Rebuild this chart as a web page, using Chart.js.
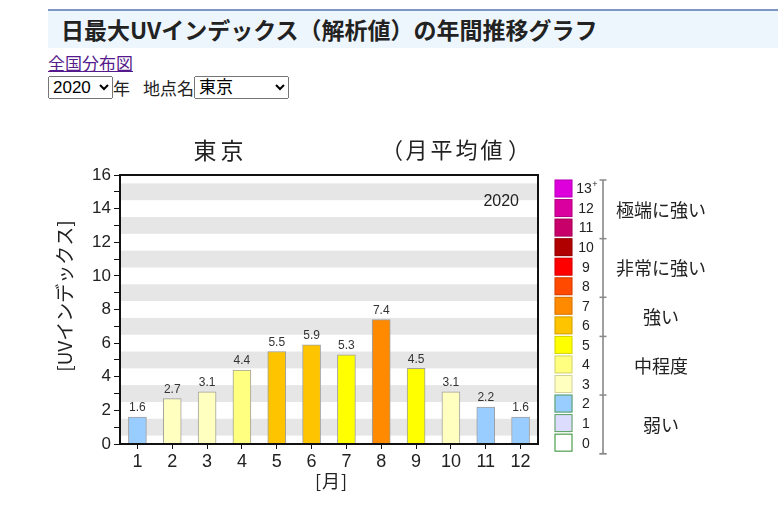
<!DOCTYPE html>
<html>
<head>
<meta charset="utf-8">
<script src="https://cdn.jsdelivr.net/npm/chart.js@4/dist/chart.umd.min.js"></script>
<style>
  body { margin: 0; background: #fff; font-family: "Liberation Sans", Arial, "Noto Sans CJK JP", sans-serif; }
  #hd { position: absolute; left: 48px; top: 9px; width: 730px; height: 37px; border-top: 2px solid #7f97c3; background: #eef6fd; }
  #hd h1 { margin: 0; position: absolute; left: 13px; top: 3px; font: bold 23px "Noto Sans CJK JP", sans-serif; line-height: 30px; color: #222; }
  #lnk { position: absolute; left: 48px; top: 50px; font: 17px "Noto Sans CJK JP", sans-serif; color: #551a8b; }
  #ctl { position: absolute; left: 48px; top: 76px; font: 17px "Noto Sans CJK JP", sans-serif; color: #222; line-height: 23px; white-space: nowrap; }
  #ctl span { display: inline-block; vertical-align: top; }
  select { font: 17px "Liberation Sans", "Noto Sans CJK JP", sans-serif; height: 23px; vertical-align: top; margin: 0; }
  #chart { position: absolute; left: 0; top: 120px; }
</style>
</head>
<body>
<div id="hd"><h1>日最大UVインデックス（解析値）の年間推移グラフ</h1></div>
<a id="lnk" href="#">全国分布図</a>
<div id="ctl"><select style="width:65px"><option>2020</option></select><span>年</span><span style="margin-left:13px">地点名</span><select style="width:95px"><option>東京</option></select></div>
<canvas id="chart" width="778" height="380"></canvas>
<script>
const months = ['1', '2', '3', '4', '5', '6', '7', '8', '9', '10', '11', '12'];
const uvMean = [1.6, 2.7, 3.1, 4.4, 5.5, 5.9, 5.3, 7.4, 4.5, 3.1, 2.2, 1.6];
const yTicks = [0, 2, 4, 6, 8, 10, 12, 14, 16];

// UV level colours, index = level 0..13
const levelColors = ['#ffffff', '#dcdcff', '#99ccff', '#ffffc0', '#ffff80', '#ffff00', '#ffc400',
  '#ff8a00', '#ff4a00', '#ff0000', '#b00000', '#c8006a', '#d9009f', '#dd00dd'];
const levelLabels = ['0', '1', '2', '3', '4', '5', '6', '7', '8', '9', '10', '11', '12', '13'];
const groupNames = ['弱い', '中程度', '強い', '非常に強い', '極端に強い'];
const groupFrom = [0, 3, 6, 8, 11];
const groupTo = [2, 5, 7, 10, 13];

function levelColor(v) {
  return levelColors[Math.min(13, Math.round(v))];
}

const jp = '"Noto Sans CJK JP", sans-serif';
const sans = '"Liberation Sans", Arial, sans-serif';

// draw a string one character at a time with a fixed pitch, centred on cx
function spaced(ctx, text, cx, cy, pitch) {
  const chars = Array.from(text);
  let x = cx - pitch * (chars.length - 1) / 2;
  chars.forEach(c => { ctx.fillText(c, x, cy); x += pitch; });
}

const decor = {
  id: 'decor',
  beforeDatasetsDraw(chart) {
    const { ctx, chartArea: a, scales: { y } } = chart;
    ctx.save();
    ctx.fillStyle = '#e6e6e6';
    for (let k = 0.5; k < 16; k += 2) {
      const t = y.getPixelForValue(k + 1), b = y.getPixelForValue(k);
      ctx.fillRect(a.left, t, a.right - a.left, b - t);
    }
    ctx.restore();
  },
  afterDatasetsDraw(chart) {
    const { ctx, chartArea: a } = chart;
    const meta = chart.getDatasetMeta(0);
    ctx.save();
    // value labels
    ctx.fillStyle = '#333';
    ctx.font = '12px ' + sans;
    ctx.textAlign = 'center';
    ctx.textBaseline = 'bottom';
    meta.data.forEach((bar, i) => {
      ctx.fillText(uvMean[i].toFixed(1), bar.x, bar.y - 3);
    });
    // frame
    ctx.strokeStyle = '#111';
    ctx.lineWidth = 2;
    ctx.strokeRect(a.left, a.top, a.right - a.left, a.bottom - a.top);
    // year text
    ctx.fillStyle = '#222';
    ctx.font = '16px ' + sans;
    ctx.textAlign = 'right';
    ctx.textBaseline = 'middle';
    ctx.fillText('2020', 519, 82);
    // titles
    ctx.font = '23px ' + jp;
    ctx.textAlign = 'center';
    spaced(ctx, '東京', 218.5, 30, 27);
    ctx.font = '22px ' + jp;
    spaced(ctx, '月平均値', 454, 30, 25);
    ctx.fillText('（', 392, 30);
    ctx.fillText('）', 519, 30);
    ctx.font = '18px ' + jp;
    spaced(ctx, '[月]', (a.left + a.right) / 2 + 2, 361, 13);
    ctx.save();
    ctx.translate(65, 176);
    ctx.rotate(-Math.PI / 2);
    ctx.font = '19px ' + jp;
    ctx.fillText('[UVインデックス]', 0, 0);
    ctx.restore();

    // legend
    const top = 59.5, pitch = 19.55, sx = 554.5, sw = 18, sh = 18;
    for (let i = 0; i < levelColors.length; i++) {
      const lvl = 13 - i;
      const yy = top + i * pitch;
      ctx.fillStyle = levelColors[lvl];
      ctx.fillRect(sx, yy, sw, sh);
      ctx.lineWidth = 1;
      ctx.strokeStyle = 'rgba(0,0,0,0.18)';
      if (lvl <= 2) ctx.strokeStyle = '#5aa05a';
      if (lvl === 0) ctx.strokeStyle = '#2a8a2a';
      ctx.strokeRect(sx + 0.5, yy + 0.5, sw - 1, sh - 1);
      ctx.fillStyle = '#222';
      ctx.font = '14px ' + sans;
      ctx.textAlign = 'center';
      ctx.textBaseline = 'middle';
      if (lvl === 13) {
        ctx.fillText(levelLabels[lvl], 584, yy + sh / 2 + 1);
        ctx.font = '9px ' + sans;
        ctx.fillText('+', 595, yy + 5);
      } else {
        ctx.fillText(levelLabels[lvl], 586, yy + sh / 2 + 1);
      }
    }
    // bracket
    const bx = 603;
    const yOf = idx => top + idx * pitch - 0.5;
    ctx.strokeStyle = '#a0a0a0';
    ctx.lineWidth = 2;
    ctx.beginPath();
    ctx.moveTo(bx, yOf(0) + 1);
    ctx.lineTo(bx, yOf(14) + 1);
    ctx.stroke();
    ctx.lineWidth = 1.5;
    ctx.strokeStyle = '#888';
    const caps = [0, 14];
    groupFrom.forEach(f => caps.push(14 - f));
    caps.forEach(idx => {
      const cy = yOf(idx) + 1;
      ctx.beginPath();
      ctx.moveTo(bx - 3.5, cy);
      ctx.lineTo(bx + 3.5, cy);
      ctx.stroke();
    });
    ctx.fillStyle = '#222';
    ctx.font = '18px ' + jp;
    ctx.textAlign = 'center';
    groupNames.forEach((name, g) => {
      const i0 = 13 - groupTo[g], i1 = 13 - groupFrom[g] + 1;
      const cy = top + (i0 + i1) / 2 * pitch + 1;
      ctx.fillText(name, 661, cy);
    });
    ctx.restore();
  }
};

new Chart(document.getElementById('chart'), {
  type: 'bar',
  data: {
    labels: months,
    datasets: [{
      data: uvMean,
      backgroundColor: uvMean.map(levelColor),
      borderColor: '#a0a0a0',
      borderWidth: 1,
      barThickness: 18
    }]
  },
  options: {
    responsive: false,
    animation: false,
    layout: { padding: { top: 55, right: 240, left: 0, bottom: 0 } },
    plugins: { legend: { display: false }, tooltip: { enabled: false } },
    scales: {
      x: {
        afterFit(s) { s.height = 56; },
        border: { display: false },
        grid: { offset: false, color: 'transparent', tickColor: '#111', tickLength: 5, tickWidth: 1 },
        ticks: { color: '#222', font: { family: sans, size: 18 }, padding: 2 }
      },
      y: {
        min: 0,
        max: 16,
        afterFit(s) { s.width = 120; },
        border: { display: false },
        grid: { color: 'transparent', tickColor: '#111', tickLength: 6, tickWidth: 1 },
        ticks: {
          stepSize: 1,
          autoSkip: false,
          color: '#222',
          font: { family: sans, size: 17 },
          padding: 3,
          callback: v => yTicks.includes(v) ? String(v) : ''
        }
      }
    }
  },
  plugins: [decor]
});
</script>
</body>
</html>
